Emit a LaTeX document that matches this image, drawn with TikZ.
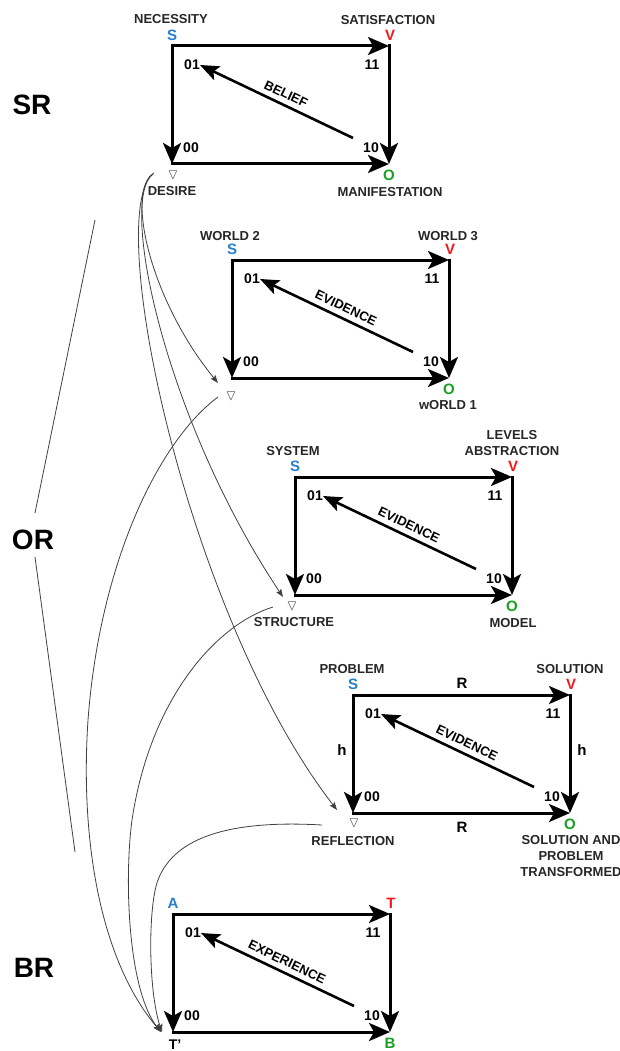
\documentclass[tikz,border=0pt]{standalone}
\usepackage{amssymb}
\usepackage{fontspec}
\setmainfont{Liberation Sans}
\usetikzlibrary{calc}
\usetikzlibrary{arrows.meta}

\definecolor{sblue}{RGB}{40,125,205}
\definecolor{vred}{RGB}{240,25,25}
\definecolor{ogreen}{RGB}{25,160,35}

\tikzset{
	edge/.style={line width=3pt, line cap=rect, -{Stealth[length=21pt,width=18pt,inset=5pt]}},
	diag/.style={line width=2.6pt, -{Stealth[length=19pt,width=15pt,inset=4pt]}},
	link/.style={black!75, line width=0.8pt, -{Stealth[length=8pt,width=6pt,inset=1.5pt]}},
	side/.style={black!75, line width=0.8pt},
	lab/.style={font=\fontsize{13}{16}\selectfont\bfseries, align=center, inner sep=0pt, text=black!85},
	dlab/.style={font=\fontsize{13}{14}\selectfont\bfseries, inner sep=0pt, rotate=-25.6},
	cnr/.style={font=\fontsize{15}{16}\selectfont\bfseries, inner sep=0pt},
	num/.style={font=\fontsize{14}{16}\selectfont\bfseries, inner sep=0pt},
	rel/.style={font=\fontsize{28}{30}\selectfont\bfseries, inner sep=0pt},
	tri/.style={font=\fontsize{15}{15}\selectfont, inner sep=0pt, text=black!70}
}

\begin{document}
\begin{tikzpicture}[x=1pt,y=-1pt]
			\useasboundingbox (0,0) rectangle (620,1051);

			% the five squares
			\foreach \n/\px/\py/\w/\ls/\lv/\lo in {sr/172/46/BELIEF/S/V/O, wd/232/260/EVIDENCE/S/V/O, sy/295/477/EVIDENCE/S/V/O, pb/353/695/EVIDENCE/S/V/O, br/173/914/EXPERIENCE/A/T/B}{
				\coordinate (\n-s) at (\px,\py);
				\coordinate (\n-v) at ($(\n-s)+(217,0)$);
				\coordinate (\n-b) at ($(\n-s)+(0,118)$);
				\coordinate (\n-o) at ($(\n-s)+(217,118)$);

				\node[cnr, text=sblue] (\n-ls) at ($(\n-s)+(0,-11)$) {\ls};
				\node[cnr, text=vred] (\n-lv) at ($(\n-v)+(1,-11)$) {\lv};
				\node[cnr, text=ogreen] (\n-lo) at ($(\n-o)+(0,11)$) {\lo};

				\node[num] (\n-01) at ($(\n-s)+(20,19)$) {01};
				\node[num] (\n-11) at ($(\n-v)+(-17,19)$) {11};
				\node[num] (\n-00) at ($(\n-b)+(19,-16)$) {00};
				\node[num] (\n-10) at ($(\n-o)+(-18,-16)$) {10};

				\draw[edge] (\n-s) -- (\n-v);
				\draw[edge] (\n-s) -- (\n-b);
				\draw[edge] (\n-v) -- (\n-o);
				\draw[edge] (\n-b) -- (\n-o);
				\draw[diag] ($(\n-o)+(-36,-26)$) -- ($(\n-s)+(28,19)$);
				\node[dlab] (\n-w) at ($(\n-o)+(-103,-70)$) {\w};
			}

			\node[lab] (necess) at (171,19) {NECESSITY};
			\node[lab] (satisf) at (388,20) {SATISFACTION};
			\node[lab] (world2) at (230,236) {WORLD 2};
			\node[lab] (world3) at (448,236) {WORLD 3};
			\node[lab] (system) at (293,451) {SYSTEM};
			\node[lab] (levels) at (512,443) {LEVELS\\ABSTRACTION};
			\node[lab] (problem) at (352,669) {PROBLEM};
			\node[lab] (solution) at (570,669) {SOLUTION};

			\node[lab] (manif) at (390,192) {MANIFESTATION};
			\node[lab] (world1) at (448,405) {wORLD 1};
			\node[lab] (model) at (513,623) {MODEL};
			\node[lab, anchor=north] (soltr) at (571,835) {SOLUTION AND\\PROBLEM\\TRANSFORMED};

			\node[cnr] (rtop) at (462,683) {R};
			\node[cnr] (rbot) at (462,827) {R};
			\node[cnr] (hleft) at (342,750) {h};
			\node[cnr] (hright) at (582,750) {h};

			% lower left corners
			\node[tri] (desire) at (173,175) {$\triangledown$};
			\node[lab] (desiretx) at (172,191) {DESIRE};
			\node[tri] (wtri) at (231,396) {$\triangledown$};
			\node[tri] (stri) at (292,606) {$\triangledown$};
			\node[lab] (stritx) at (294,622) {STRUCTURE};
			\node[tri] (rtri) at (354,823) {$\triangledown$};
			\node[lab] (rtritx) at (353,841) {REFLECTION};
			\node[num] (tp) at (175,1045) {T'};

			\node[rel] (srlab) at (32,105) {SR};
			\node[rel] (orlab) at (33,540) {OR};
			\node[rel] (brlab) at (34,968) {BR};

			\coordinate (or-top) at (95,220);
			\coordinate (or-up) at (35,513);
			\coordinate (or-low) at (35,557);
			\coordinate (or-bot) at (75,852);
			\draw[side] (or-top) -- (or-up);
			\draw[side] (or-low) -- (or-bot);

			%desire to the three corners
			\draw[link] ($(desire)+(-19,-2)$) .. controls (125,190) and (150,300) .. ($(wtri)+(-13,-13)$);
			\draw[link] ($(desire)+(-20,-1)$) .. controls (118,200) and (165,420) .. ($(stri)+(-9,-9)$);
			\draw[link] ($(desire)+(-22,0)$) .. controls (105,230) and (190,620) .. ($(rtri)+(-17,-13)$);

			%corners to T'
			\draw[link] ($(wtri)+(-13,1)$) .. controls (160,440) and (100,560) .. (88,720) .. controls (80,840) and (100,960) .. ($(tp)+(-14,-13)$);
			\draw[link] ($(stri)+(-19,1)$) .. controls (215,625) and (150,700) .. (132,820) .. controls (124,880) and (128,990) .. ($(tp)+(-14,-13)$);
			\draw[link] ($(rtri)+(-32,2)$) .. controls (235,820) and (175,835) .. (158,880) .. controls (148,906) and (148,990) .. ($(tp)+(-13,-13)$);

\end{tikzpicture}
\end{document}
